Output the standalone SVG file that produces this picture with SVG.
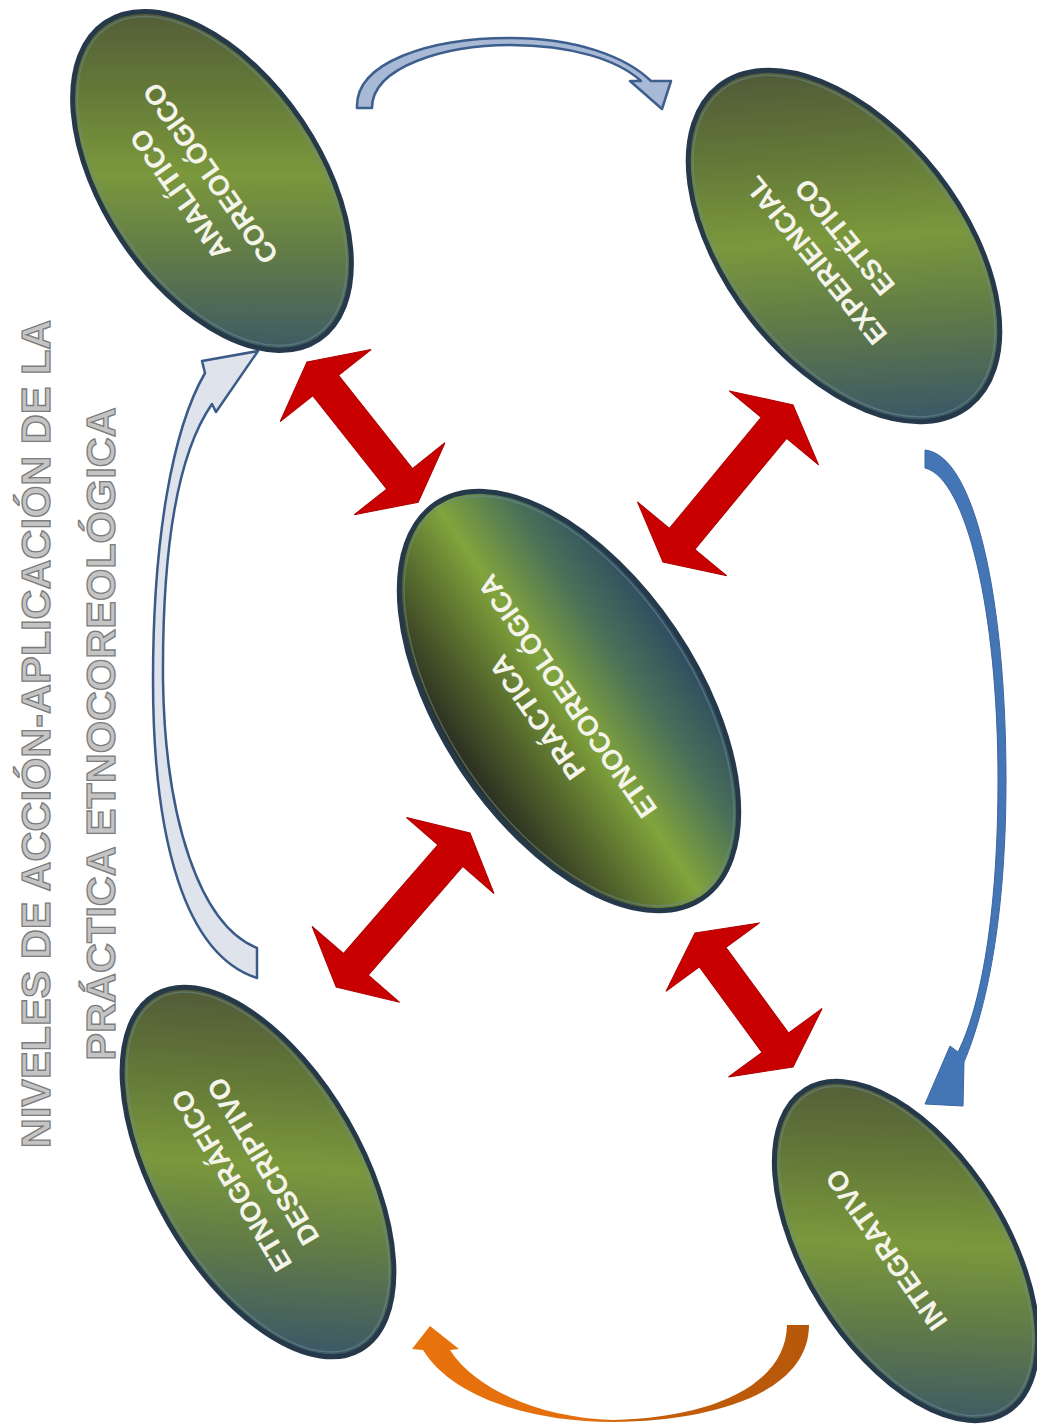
<svg xmlns="http://www.w3.org/2000/svg" width="1037" height="1426" viewBox="0 0 1037 1426">
<defs>
<style>
.nt{font-family:"Liberation Sans",Arial,sans-serif;font-weight:bold;font-size:28px;fill:#f4f4ea;text-anchor:middle}
.title{font-family:"Liberation Sans",Arial,sans-serif;font-weight:bold;font-size:41.5px;fill:#c4c4c4;stroke:#7c7c7c;stroke-width:1.3;text-anchor:middle}
.rim{fill:none;stroke:#26394a;stroke-width:5}
.hl{fill:none;stroke:#6d8a96;stroke-width:1.5;opacity:.55}
.red{fill:#c80000;stroke:#b00000;stroke-width:1}
</style>
<linearGradient id="gOuter" gradientUnits="userSpaceOnUse" x1="-145" y1="-98" x2="145" y2="98">
<stop offset="0" stop-color="#525c38"/>
<stop offset="0.25" stop-color="#647a38"/>
<stop offset="0.48" stop-color="#7b983c"/>
<stop offset="0.7" stop-color="#627c46"/>
<stop offset="1" stop-color="#3c5966"/>
</linearGradient>
<linearGradient id="gCenter" gradientUnits="userSpaceOnUse" x1="0" y1="-127" x2="0" y2="127">
<stop offset="0" stop-color="#2d4b62"/>
<stop offset="0.25" stop-color="#4b7258"/>
<stop offset="0.5" stop-color="#82a43c"/>
<stop offset="0.75" stop-color="#53662c"/>
<stop offset="1" stop-color="#282b20"/>
</linearGradient>
<linearGradient id="gOrange" gradientUnits="userSpaceOnUse" x1="410" y1="0" x2="810" y2="0">
<stop offset="0" stop-color="#e8720c"/>
<stop offset="0.45" stop-color="#e26e0c"/>
<stop offset="0.58" stop-color="#c65f0a"/>
<stop offset="1" stop-color="#b6570a"/>
</linearGradient>
</defs>
<rect width="1037" height="1426" fill="#ffffff"/>

<g id="title">
<text class="title" transform="translate(50,734) rotate(-90)">NIVELES DE ACCIÓN-APLICACIÓN DE LA</text>
<text class="title" transform="translate(115,734) rotate(-90)">PRÁCTICA ETNOCOREOLÓGICA</text>
</g>

<g id="connectors">
<path id="arrow-top" d="M357,108 C355,62 430,38 510,38 C575,38 625,56 651,81 L671,81 L662,109 L630,81 L641,81 C618,60 572,45 510,45 C447,45 372,66 372,108 Z" fill="#a7b9d4" stroke="#3d5f8e" stroke-width="2.5" stroke-linejoin="round"/>
<path id="arrow-left" d="M257,978 L257,948 C200,925 165,820 163,680 C162,540 180,450 212,404 L216,412 L258,351 L202,361 L205,373 C172,430 153,540 153,680 C153,840 185,955 257,978 Z" fill="#dfe4ec" stroke="#3a5b88" stroke-width="2.5" stroke-linejoin="round"/>
<path id="arrow-right" d="M925,450 L925,468 C966,478 998,610 998,780 C998,900 984,1000 958,1052 L950,1046 L925,1104 L963,1106 L964,1062 C986,1010 1006,920 1006,780 C1006,600 975,455 925,450 Z" fill="#4475b5" stroke="#3a66a0" stroke-width="1"/>
<path id="arrow-bottom" d="M787,1325 L809,1325 C809,1390 720,1421 613,1422 C530,1422 452,1397 423,1350 L412,1349 L430,1326 L459,1349 L450,1350 C477,1392 545,1418 613,1420 C712,1418 786,1385 787,1325 Z" fill="url(#gOrange)"/>
<polygon id="red-a" class="red" transform="translate(307,362) rotate(51.6)" points="0,0 30,-58 30,-16.5 149,-16.5 149,-58 179,0 149,58 149,16.5 30,16.5 30,58"/>
<polygon id="red-b" class="red" transform="translate(663,562) rotate(-50.4)" points="0,0 30,-58 30,-16.5 174,-16.5 174,-58 204,0 174,58 174,16.5 30,16.5 30,58"/>
<polygon id="red-c" class="red" transform="translate(470,833) rotate(131)" points="0,0 30,-58 30,-16.5 174,-16.5 174,-58 204,0 174,58 174,16.5 30,16.5 30,58"/>
<polygon id="red-d" class="red" transform="translate(695,933) rotate(53.8)" points="0,0 30,-58 30,-16.5 136,-16.5 136,-58 166,0 136,58 136,16.5 30,16.5 30,58"/>
</g>

<g id="node-analitico">
<g transform="translate(212,181) rotate(56)">
<ellipse rx="191" ry="108" fill="url(#gOuter)"/>
<ellipse class="rim" rx="191" ry="108"/>
<ellipse class="hl" rx="186" ry="103"/>
</g>
<g transform="translate(195,184) rotate(235)">
<text class="nt" y="-8.5">ANALÍTICO</text>
<text class="nt" y="28.5">COREOLÓGICO</text>
</g>
</g>

<g id="node-experiencial">
<g transform="translate(844,246) rotate(52)">
<ellipse rx="203" ry="118" fill="url(#gOuter)"/>
<ellipse class="rim" rx="203" ry="118"/>
<ellipse class="hl" rx="198" ry="113"/>
</g>
<g transform="translate(830,249) rotate(231)">
<text class="nt" y="-8.5">EXPERIENCIAL</text>
<text class="nt" y="28.5">ESTÉTICO</text>
</g>
</g>

<g id="node-practica">
<g transform="translate(569,701) rotate(56)">
<ellipse rx="238" ry="127" fill="url(#gCenter)"/>
<ellipse class="rim" rx="238" ry="127"/>
<ellipse class="hl" rx="233" ry="122"/>
</g>
<g transform="translate(552,707) rotate(235)">
<text class="nt" y="-8.5">PRÁCTICA</text>
<text class="nt" y="28.5">ETNOCOREOLÓGICA</text>
</g>
</g>

<g id="node-etnografico">
<g transform="translate(258,1172) rotate(60)">
<ellipse rx="205" ry="103" fill="url(#gOuter)"/>
<ellipse class="rim" rx="205" ry="103"/>
<ellipse class="hl" rx="200" ry="98"/>
</g>
<g transform="translate(247,1171) rotate(239)">
<text class="nt" y="-8.5">ETNOGRÁFICO</text>
<text class="nt" y="28.5">DESCRIPTIVO</text>
</g>
</g>

<g id="node-integrativo">
<g transform="translate(906,1251) rotate(58)">
<ellipse rx="190" ry="100" fill="url(#gOuter)"/>
<ellipse class="rim" rx="190" ry="100"/>
<ellipse class="hl" rx="185" ry="95"/>
</g>
<g transform="translate(886,1250) rotate(235)">
<text class="nt" y="10">INTEGRATIVO</text>
</g>
</g>
</svg>
